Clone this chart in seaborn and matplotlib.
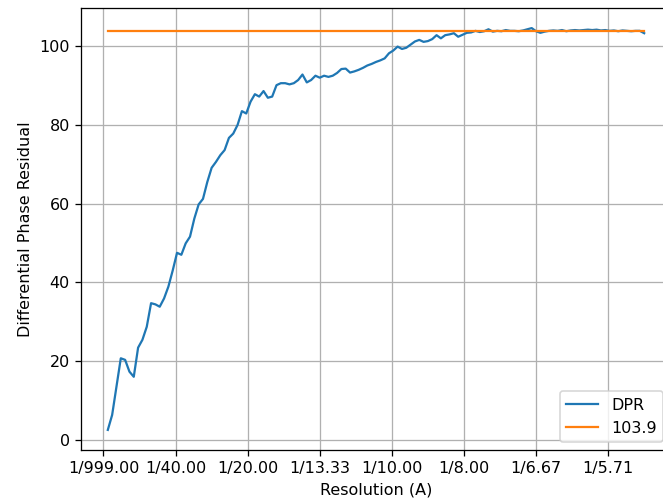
import numpy as np
import matplotlib
matplotlib.use("Agg")
import matplotlib.pyplot as plt
import seaborn as sns

# spatial frequency step (1/A) and DPR values
freq_step = 0.0015
dpr = [
    2.5, 6.3, 13.5, 20.7, 20.3, 17.3, 16.0, 23.4, 25.4, 28.7,
    34.7, 34.4, 33.8, 35.9, 38.9, 43.0, 47.5, 47.0, 49.9, 51.6,
    56.2, 59.8, 61.2, 65.5, 69.1, 70.6, 72.3, 73.6, 76.7, 77.8,
    80.0, 83.5, 82.9, 85.9, 87.8, 87.2, 88.6, 86.9, 87.2, 90.1,
    90.6, 90.6, 90.3, 90.6, 91.4, 92.8, 90.8, 91.4, 92.5, 92.0,
    92.5, 92.2, 92.5, 93.2, 94.2, 94.3, 93.3, 93.6, 94.0, 94.5,
    95.1, 95.5, 96.0, 96.4, 96.9, 98.2, 98.9, 99.9, 99.3, 99.6,
    100.4, 101.2, 101.6, 101.1, 101.3, 101.8, 102.8, 102.0, 102.8, 103.0,
    103.3, 102.4, 102.9, 103.4, 103.5, 103.9, 103.6, 103.8, 104.3, 103.7,
    103.9, 103.8, 104.1, 103.9, 103.9, 103.8, 104.0, 104.3, 104.6, 103.8,
    103.4, 103.7, 103.9, 104.0, 103.9, 104.1, 103.8, 104.0, 104.1, 104.0,
    104.1, 104.2, 104.1, 104.2, 104.0, 104.1, 103.9, 104.0, 103.8, 104.0,
    103.9, 103.8, 103.9, 103.9, 103.3,
]
freq = np.arange(1, len(dpr) + 1) * freq_step
threshold = 103.9
threshold_line = [threshold] * len(dpr)

tick_pos = [0.0, 0.025, 0.05, 0.075, 0.1, 0.125, 0.15, 0.175]
tick_labels = ["1/999.00", "1/40.00", "1/20.00", "1/13.33",
               "1/10.00", "1/8.00", "1/6.67", "1/5.71"]

DPI = 115
fig = plt.figure(figsize=(663 / DPI, 503 / DPI), dpi=DPI)
ax = fig.add_axes([81 / 663, 53 / 503, 590 / 663, 442 / 503])

sns.lineplot(x=freq, y=dpr, ax=ax, label="DPR", color="#1f77b4", linewidth=1.4)
sns.lineplot(x=freq, y=threshold_line, ax=ax, label=f"{threshold}",
             color="#ff7f0e", linewidth=1.4)

ax.set_xticks(tick_pos)
ax.set_xticklabels(tick_labels)
ax.set_xlabel("Resolution (A)")
ax.set_ylabel("Differential Phase Residual")
ax.grid(True)
ax.legend(loc="lower right")

fig.savefig("out.png", dpi=DPI)
